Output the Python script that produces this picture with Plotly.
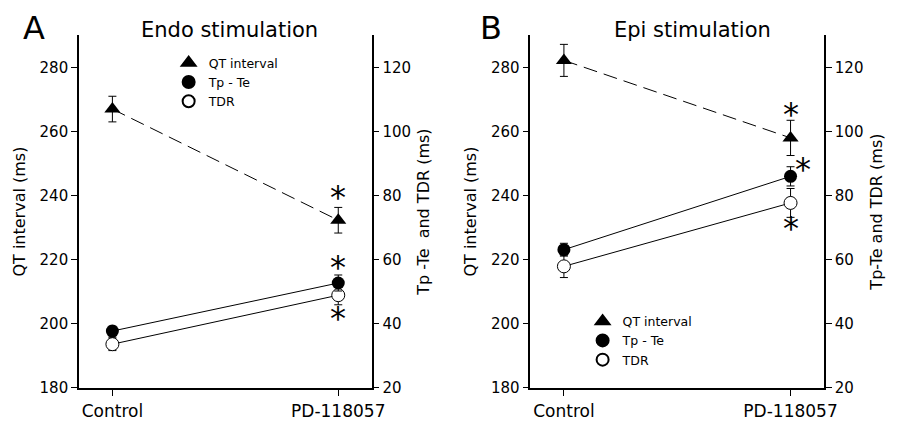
import plotly.graph_objects as go

FONT = "DejaVu Sans, Arial, sans-serif"
W, H = 904, 423

conditions = ["Control", "PD-118057"]
xpos = [0, 1]

# panel A: endo stimulation
endo_qt = [267.0, 232.3]
endo_qt_err = [4.0, 4.0]
endo_tpte = [37.7, 52.7]
endo_tpte_err = [1.5, 2.5]
endo_tdr = [33.6, 48.9]
endo_tdr_err = [2.0, 3.0]

# panel B: epi stimulation
epi_qt = [282.2, 258.0]
epi_qt_err = [5.0, 5.5]
epi_tpte = [63.1, 86.0]
epi_tpte_err = [2.0, 3.0]
epi_tdr = [57.9, 77.7]
epi_tdr_err = [3.5, 4.5]

qt_ticks = [180, 200, 220, 240, 260, 280]
tdr_ticks = [20, 40, 60, 80, 100, 120]


def px(x):
    return x / W


def py(y):
    return 1 - y / H


def err(vals):
    return dict(type="data", array=vals, color="black", thickness=1, width=4)


def add_panel(fig, xa, ya_left, ya_right, qt, qt_e, tpte, tpte_e, tdr, tdr_e):
    fig.add_trace(go.Scatter(
        x=xpos, y=qt, xaxis=xa, yaxis=ya_left, mode="lines+markers",
        line=dict(color="black", width=1, dash="14px,7px"),
        marker=dict(symbol="triangle-up", size=14, color="black"),
        error_y=err(qt_e), showlegend=False,
    ))
    fig.add_trace(go.Scatter(
        x=xpos, y=tdr, xaxis=xa, yaxis=ya_right, mode="lines+markers",
        line=dict(color="black", width=1),
        marker=dict(symbol="circle", size=13, color="white",
                    line=dict(color="black", width=1)),
        error_y=err(tdr_e), showlegend=False,
    ))
    fig.add_trace(go.Scatter(
        x=xpos, y=tpte, xaxis=xa, yaxis=ya_right, mode="lines+markers",
        line=dict(color="black", width=1),
        marker=dict(symbol="circle", size=13, color="black"),
        error_y=err(tpte_e), showlegend=False,
    ))


def add_legend(fig, name):
    items = [("QT interval", "triangle-up", "black"),
             ("Tp - Te", "circle", "black"),
             ("TDR", "circle", "white")]
    for label, sym, col in items:
        fig.add_trace(go.Scatter(
            x=[None], y=[None], mode="markers", name=label, legend=name,
            marker=dict(symbol=sym, size=13, color=col,
                        line=dict(color="black", width=1)),
        ))


fig = go.Figure()
add_panel(fig, "x", "y", "y2", endo_qt, endo_qt_err, endo_tpte, endo_tpte_err,
          endo_tdr, endo_tdr_err)
add_panel(fig, "x2", "y3", "y4", epi_qt, epi_qt_err, epi_tpte, epi_tpte_err,
          epi_tdr, epi_tdr_err)
add_legend(fig, "legend")
add_legend(fig, "legend2")

tick_font = dict(family=FONT, size=15, color="black")
title_font = dict(family=FONT, size=16, color="black")
legend_font = dict(family=FONT, size=12.5, color="black")
xr = [-0.148, 1.148]
ydom = [py(388), py(28)]

common_x = dict(range=xr, tickvals=xpos, ticktext=conditions, ticks="outside",
                ticklen=7, tickcolor="black", showline=True, linecolor="black",
                linewidth=1.5, showgrid=False, zeroline=False,
                tickfont=dict(family=FONT, size=17, color="black"))
common_y = dict(ticks="outside", ticklen=6, tickcolor="black", showline=True,
                linecolor="black", linewidth=1.5, showgrid=False, zeroline=False,
                tickfont=tick_font)

fig.update_layout(
    width=W, height=H, autosize=False,
    margin=dict(l=0, r=0, t=0, b=0),
    paper_bgcolor="white", plot_bgcolor="white",
    xaxis=dict(domain=[px(72), px(369)], anchor="y", **common_x),
    xaxis2=dict(domain=[px(530), px(828)], anchor="y3", **common_x),
    yaxis=dict(domain=ydom, anchor="x", range=[180, 290], tickvals=qt_ticks,
               title=dict(text="QT interval (ms)", font=title_font, standoff=10),
               **common_y),
    yaxis2=dict(domain=ydom, anchor="x", overlaying="y", side="right",
                range=[20, 130], tickvals=tdr_ticks,
                title=dict(text="Tp -Te  and TDR (ms)", font=title_font, standoff=8),
                **common_y),
    yaxis3=dict(domain=ydom, anchor="x2", range=[180, 290], tickvals=qt_ticks,
                title=dict(text="QT interval (ms)", font=title_font, standoff=10),
                **common_y),
    yaxis4=dict(domain=ydom, anchor="x2", overlaying="y3", side="right",
                range=[20, 130], tickvals=tdr_ticks,
                title=dict(text="Tp-Te and TDR (ms)", font=title_font, standoff=8),
                **common_y),
    legend=dict(x=px(163), y=py(41), xanchor="left", yanchor="top",
                bgcolor="rgba(0,0,0,0)", itemsizing="constant", font=legend_font),
    legend2=dict(x=px(583), y=py(305), xanchor="left", yanchor="top",
                 bgcolor="rgba(0,0,0,0)", itemsizing="constant", font=legend_font),
)

annotations = [
    dict(text="A", x=px(26), y=py(20), font=dict(family=FONT, size=32)),
    dict(text="B", x=px(490), y=py(20), font=dict(family=FONT, size=32)),
    dict(text="Endo stimulation", x=px(225), y=py(22), font=dict(family=FONT, size=21)),
    dict(text="Epi stimulation", x=px(694), y=py(22), font=dict(family=FONT, size=21)),
]
for a in annotations:
    a.update(xref="paper", yref="paper", showarrow=False,
             xanchor="center", yanchor="middle")
    a["font"]["color"] = "black"

# significance stars next to PD-118057 points
star_font = dict(family=FONT, size=32, color="black")
stars = [
    ("x", "y", endo_qt[1] + endo_qt_err[1], 0, 13),
    ("x", "y2", endo_tpte[1] + endo_tpte_err[1], 0, 11),
    ("x", "y2", endo_tdr[1] - endo_tdr_err[1], 0, -10),
    ("x2", "y3", epi_qt[1] + epi_qt_err[1], 0, 9),
    ("x2", "y4", epi_tpte[1], 12, 10),
    ("x2", "y4", epi_tdr[1] - epi_tdr_err[1], 0, -8),
]
for xr_, yr_, yv, dx, dy in stars:
    annotations.append(dict(text="*", xref=xr_, yref=yr_, x=xpos[1], y=yv,
                            xshift=dx, yshift=dy - 3, showarrow=False,
                            xanchor="center", yanchor="middle", font=star_font))

fig.update_layout(annotations=annotations)
fig.write_html("out.html")
